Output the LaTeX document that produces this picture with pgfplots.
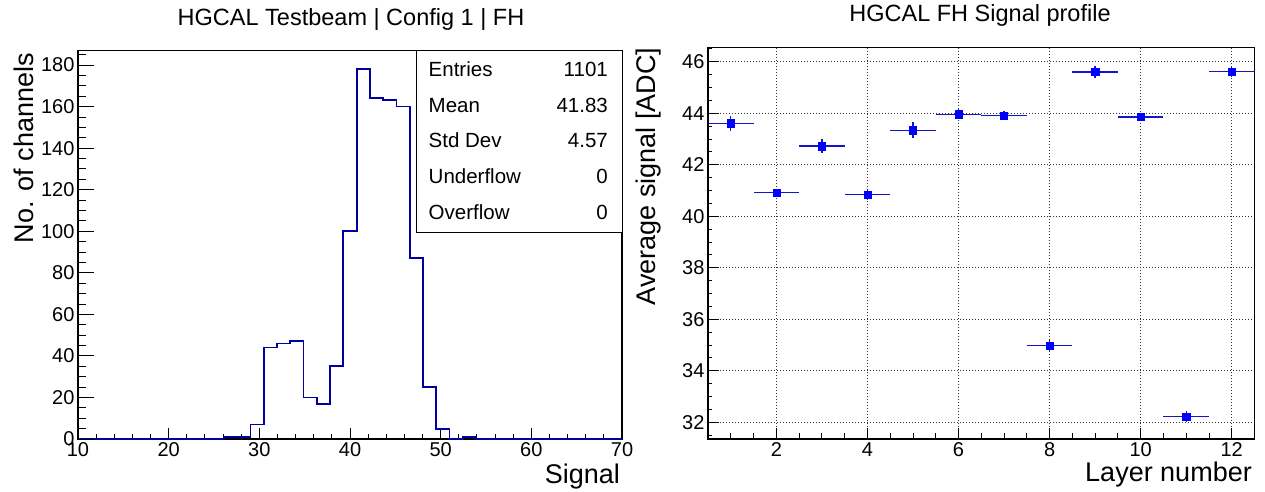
\documentclass[border=0pt]{standalone}
\usepackage{pgfplots}
\pgfplotsset{compat=1.18}
\usepackage{fontspec}
\setmainfont{Liberation Sans}
\definecolor{histblue}{RGB}{0,0,160}
\definecolor{errblue}{RGB}{20,20,200}
\pgfplotsset{
  rootaxis/.style={
    scale only axis, anchor=south west,
    tick pos=left, tick align=inside,
    tick style={black, line width=0.9pt},
    tick label style={font=\fontsize{20}{24}\selectfont},
    /pgf/number format/assume math mode=true,
  },
  overlay y/.style={
    xtick=\empty, minor xtick={}, axis line style={draw=none},
  },
}
\begin{document}
\begin{tikzpicture}
\useasboundingbox (0,0) rectangle (1265pt,491pt);
% ---------------- left panel: histogram ----------------
\begin{axis}[rootaxis,
  at={(78pt,52pt)}, width=544pt, height=388.3pt,
  xmin=10, xmax=70, ymin=0, ymax=186.9,
  xtick={10,20,...,70}, ytick=\empty,
  minor xtick={10,12,...,70},
  major tick length=11pt, minor tick length=5.5pt,
  axis line style={black, line width=1.2pt},
  clip=false,
]
\addplot[const plot, histblue, line width=1.8pt] coordinates {
(10,0) (26.0976,1) (27.5610,1) (29.0244,7) (30.4878,44) (31.9512,46)
(33.4146,47) (34.8780,20) (36.3415,17) (37.8049,35) (39.2683,100)
(40.7317,178) (42.1951,164) (43.6585,163) (45.1220,160) (46.5854,87)
(48.0488,25) (49.5122,5) (50.9756,0) (52.4390,1) (53.9024,0) (70,0)
};
\end{axis}
\begin{axis}[rootaxis, overlay y,
  at={(78pt,52pt)}, width=544pt, height=388.3pt,
  xmin=10, xmax=70, ymin=0, ymax=186.9,
  ytick={0,20,...,180}, minor ytick={0,5,...,185},
  major tick length=16pt, minor tick length=8pt,
]
\end{axis}
% stats box
\draw[black, line width=1pt, fill=white] (416.7pt,259pt) rectangle (622pt,440.3pt);
\begin{scope}[every node/.style={font=\fontsize{20.5}{24}\selectfont, inner sep=0pt}]
\node[anchor=base west] at (428.5pt,414.5pt) {Entries};
\node[anchor=base east] at (608pt,414.5pt) {1101};
\node[anchor=base west] at (428.5pt,378.8pt) {Mean};
\node[anchor=base east] at (608pt,378.8pt) {41.83};
\node[anchor=base west] at (428.5pt,343.1pt) {Std Dev};
\node[anchor=base east] at (608pt,343.1pt) {4.57};
\node[anchor=base west] at (428.5pt,307.4pt) {Underflow};
\node[anchor=base east] at (608pt,307.4pt) {0};
\node[anchor=base west] at (428.5pt,271.7pt) {Overflow};
\node[anchor=base east] at (608pt,271.7pt) {0};
\end{scope}
% ---------------- right panel: profile ----------------
\begin{axis}[rootaxis,
  at={(708pt,52pt)}, width=546.5pt, height=391.7pt,
  xmin=0.5, xmax=12.5, ymin=31.35, ymax=46.56,
  xtick={2,4,...,12}, ytick={32,34,...,46},
  yticklabels={},
  minor xtick={1,1.5,...,12.5},
  major tick length=11pt, minor tick length=6pt,
  axis line style={black, line width=1.2pt},
  grid=major,
  major grid style={black!80, line width=0.9pt, dash pattern=on 1pt off 2pt},
]
\addplot[only marks, mark=square*, mark size=3.6pt, color=blue,
  error bars/.cd, x dir=both, x explicit, y dir=both, y explicit,
  error mark=none,
  error bar style={errblue, line width=1.4pt}]
coordinates {
(1,43.61) +- (0.5,0.30)
(2,40.92) +- (0.5,0.14)
(3,42.72) +- (0.5,0.27)
(4,40.85) +- (0.5,0.20)
(5,43.34) +- (0.5,0.31)
(6,43.96) +- (0.5,0.19)
(7,43.91) +- (0.5,0.18)
(8,34.98) +- (0.5,0.22)
(9,45.60) +- (0.5,0.22)
(10,43.85) +- (0.5,0.10)
(11,32.22) +- (0.5,0.20)
(12,45.62) +- (0.5,0.20)
};
\end{axis}
\begin{axis}[rootaxis, overlay y,
  at={(708pt,52pt)}, width=546.5pt, height=391.7pt,
  xmin=0.5, xmax=12.5, ymin=31.35, ymax=46.56,
  ytick={32,34,...,46}, minor ytick={31.5,32,...,46.5},
  major tick length=8pt, minor tick length=4pt,
]
\end{axis}
% ---------------- titles and labels ----------------
\node[anchor=base, inner sep=0pt, font=\fontsize{23.5}{28}\selectfont] at (351pt,465pt) {HGCAL Testbeam | Config 1 | FH};
\node[anchor=base, inner sep=0pt, font=\fontsize{23.5}{28}\selectfont] at (980pt,469.3pt) {HGCAL FH Signal profile};
\node[anchor=base east, inner sep=0pt, font=\fontsize{27}{32}\selectfont] at (620pt,8pt) {Signal};
\node[anchor=base east, inner sep=0pt, font=\fontsize{27}{32}\selectfont] at (1252pt,9.3pt) {Layer number};
\node[anchor=base east, rotate=90, inner sep=0pt, font=\fontsize{27}{32}\selectfont] at (33.3pt,438pt) {No. of channels};
\node[anchor=base east, rotate=90, inner sep=0pt, font=\fontsize{27}{32}\selectfont] at (655pt,443.5pt) {Average signal [ADC]};
\end{tikzpicture}
\end{document}
